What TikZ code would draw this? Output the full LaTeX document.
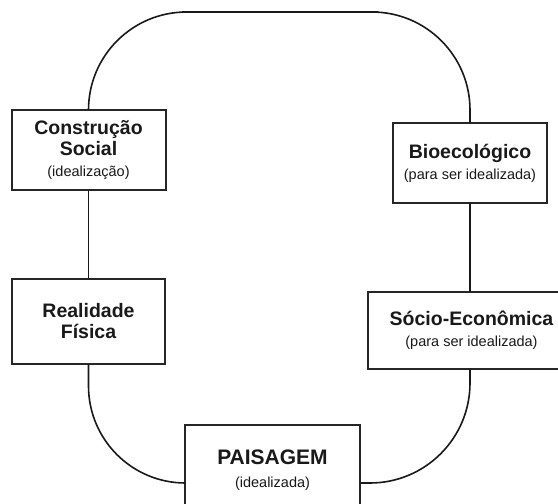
\documentclass[tikz,border=0pt]{standalone}
\usepackage{fontspec}
\setmainfont{Liberation Sans}
\usetikzlibrary{positioning, calc}
\newcommand{\subtxt}[1]{{\fontsize{14.5}{17}\selectfont\mdseries #1}}
\tikzset{
  stage/.style={draw=black!85, line width=2pt, fill=white, align=center, inner sep=0pt,
    text=black!90, font=\fontsize{19.5}{21}\selectfont\bfseries},
  link/.style={draw=black!90, line width=1.6pt, line cap=round}
}

\begin{document}
\begin{tikzpicture}[x=1pt, y=-1pt]
    \clip (0,0) rectangle (558,504);

    \node [stage, minimum width=154pt, minimum height=80pt] (cons) at (88.5,150) {Construção\\Social\\\subtxt{(idealização)}};
    \node [stage, minimum width=154pt, minimum height=80pt] (bio) at (470,163) {Bioecológico\\\subtxt{(para ser idealizada)}};
    \node [stage, minimum width=153pt, minimum height=85pt] (real) at (88.5,321.5) {Realidade\\Física};
    \node [stage, minimum width=207pt, minimum height=77pt] (socio) at (471.5,330.5) {Sócio-Econômica\\\subtxt{(para ser idealizada)\hspace{12pt}}};
    \node [stage, minimum width=175pt, minimum height=90pt,
        font=\fontsize{21}{23}\selectfont\bfseries] (pais) at (272.5,470) {PAISAGEM\\\subtxt{(idealizada)}};

    % ligacoes
    \coordinate (top) at (280,12);
    \draw [link, rounded corners=98pt] (cons.north) |- (top) -| (bio.north);
    \draw [link] (cons.south) -- (real.north);
    \draw [link] (bio.south) -- (bio.south |- socio.north);
    \draw [link, rounded corners=97pt] (real.south) |- ([yshift=-13pt]pais.west);
    \draw [link, rounded corners=100pt] (bio.south |- socio.south) |- ([yshift=-13pt]pais.east);
\end{tikzpicture}
\end{document}
